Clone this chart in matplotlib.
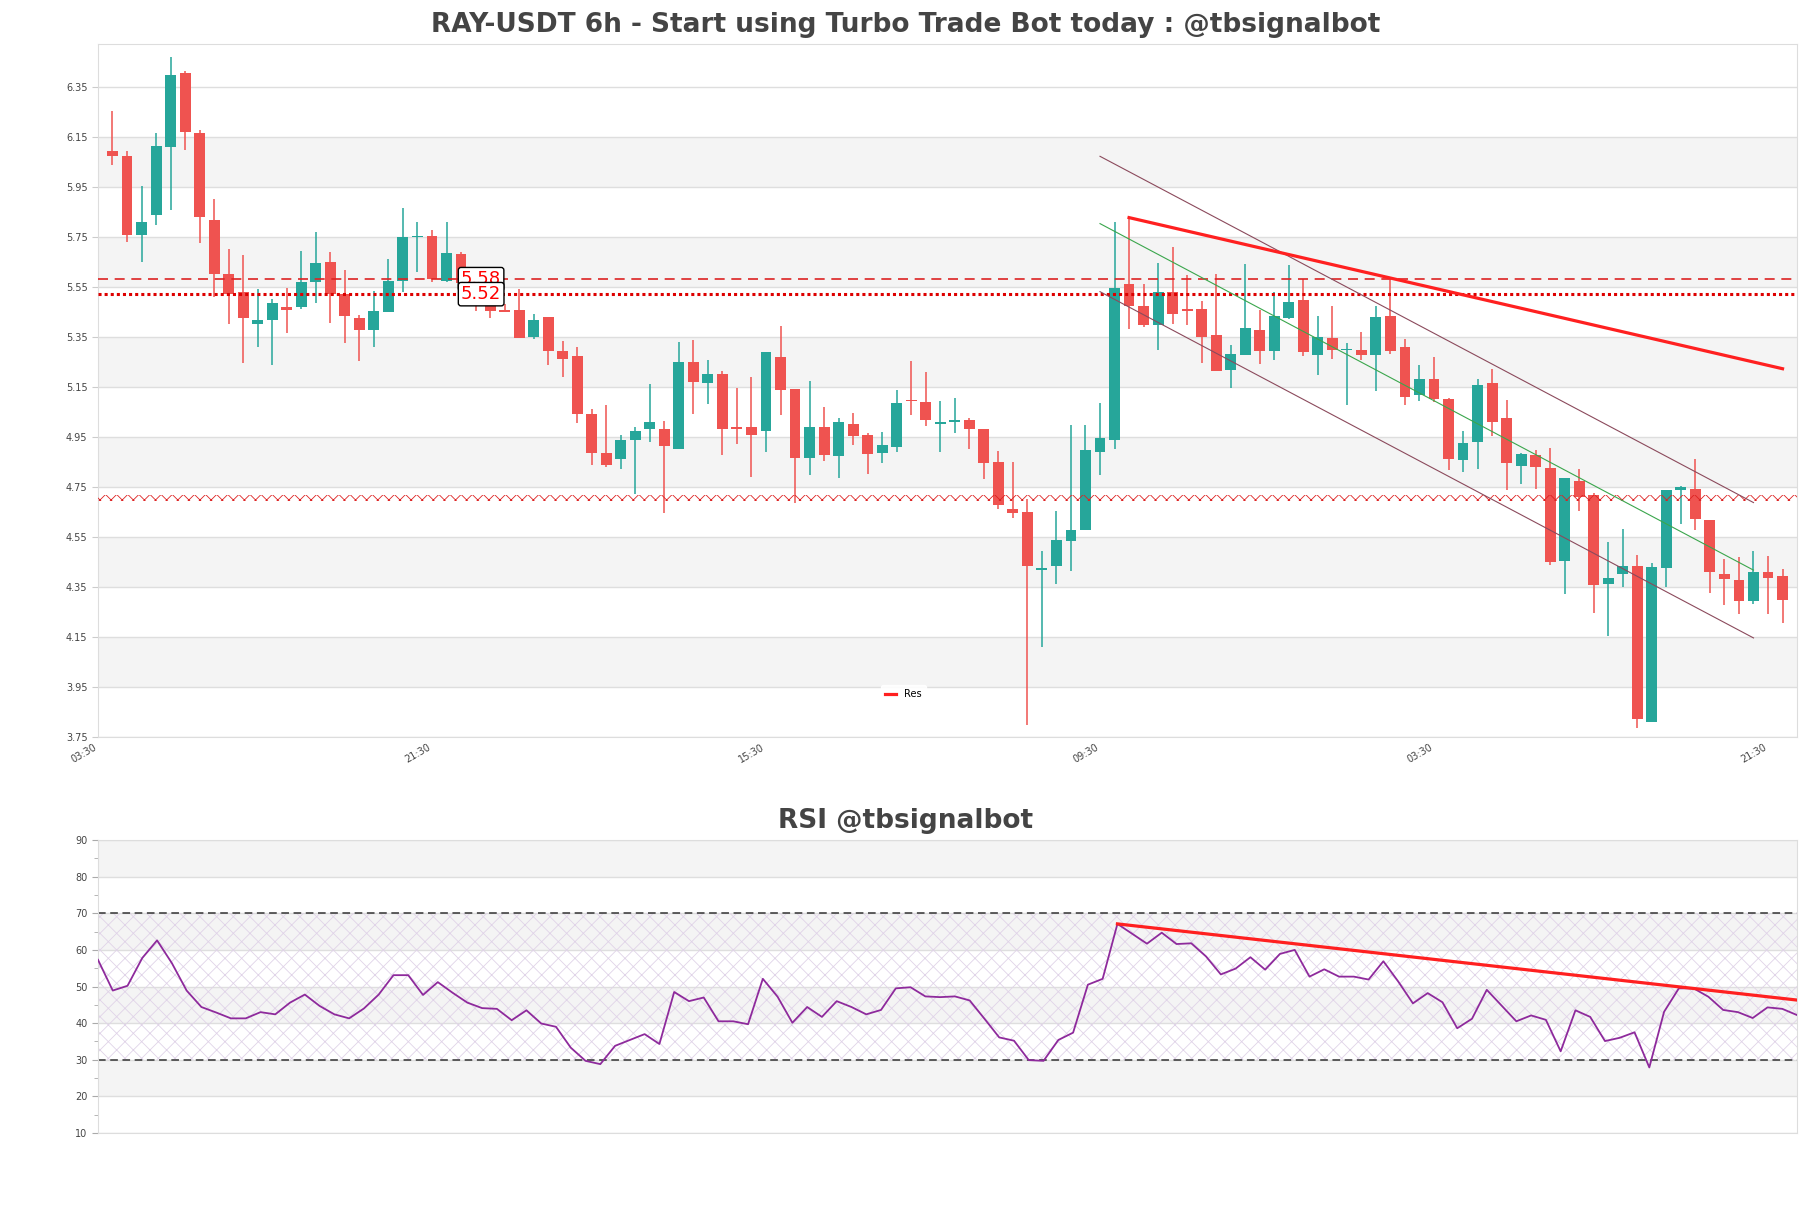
import matplotlib
matplotlib.use("Agg")
import matplotlib.pyplot as plt
from matplotlib.ticker import MultipleLocator

# ---- data (6h candles, oldest first) ----
opens = [6.091, 6.071, 5.757, 5.835, 6.110, 6.402, 6.163, 5.817, 5.600, 5.528,
         5.399, 5.418, 5.467, 5.467, 5.570, 5.649, 5.521, 5.424, 5.377, 5.449,
         5.573, 5.748, 5.754, 5.573, 5.681, 5.565, 5.489, 5.456, 5.456, 5.348,
         5.429, 5.294, 5.273, 5.042, 4.887, 4.862, 4.939, 4.982, 4.982, 4.903,
         5.249, 5.166, 5.200, 4.990, 4.988, 4.973, 5.269, 5.141, 4.865, 4.991,
         4.874, 5.002, 4.959, 4.885, 4.910, 5.095, 5.089, 5.002, 5.009, 5.017,
         4.981, 4.851, 4.662, 4.651, 4.417, 4.435, 4.532, 4.579, 4.889, 4.937,
         5.559, 5.472, 5.395, 5.528, 5.460, 5.460, 5.357, 5.218, 5.278, 5.375,
         5.291, 5.426, 5.496, 5.278, 5.345, 5.296, 5.296, 5.278, 5.433, 5.307,
         5.118, 5.182, 5.101, 4.858, 4.930, 5.163, 5.024, 4.835, 4.878, 4.827,
         4.453, 4.773, 4.718, 4.361, 4.402, 4.435, 3.811, 4.424, 4.736, 4.743,
         4.618, 4.402, 4.379, 4.294, 4.411, 4.393]
highs = [6.251, 6.092, 5.954, 6.163, 6.467, 6.413, 6.177, 5.900, 5.701, 5.676,
         5.539, 5.501, 5.546, 5.692, 5.770, 5.687, 5.617, 5.438, 5.534, 5.662,
         5.865, 5.809, 5.775, 5.809, 5.690, 5.580, 5.500, 5.480, 5.539, 5.440,
         5.430, 5.332, 5.310, 5.062, 5.076, 4.957, 4.990, 5.161, 5.015, 5.327,
         5.337, 5.256, 5.213, 5.145, 5.188, 5.289, 5.393, 5.141, 5.172, 5.069,
         5.024, 5.045, 4.964, 4.970, 5.136, 5.253, 5.208, 5.091, 5.105, 5.024,
         4.981, 4.892, 4.851, 4.701, 4.492, 4.654, 4.997, 4.997, 5.083, 5.809,
         5.826, 5.559, 5.645, 5.709, 5.595, 5.491, 5.602, 5.316, 5.642, 5.455,
         5.528, 5.636, 5.579, 5.433, 5.471, 5.323, 5.368, 5.474, 5.575, 5.341,
         5.236, 5.267, 5.105, 4.972, 5.179, 5.222, 5.096, 4.885, 4.896, 4.907,
         4.786, 4.822, 4.727, 4.530, 4.582, 4.476, 4.447, 4.736, 4.752, 4.861,
         4.618, 4.462, 4.469, 4.494, 4.474, 4.420]
lows = [6.035, 5.727, 5.647, 5.795, 5.858, 6.096, 5.723, 5.507, 5.399, 5.245,
        5.309, 5.236, 5.363, 5.462, 5.485, 5.404, 5.325, 5.253, 5.309, 5.449,
        5.530, 5.609, 5.570, 5.570, 5.560, 5.452, 5.426, 5.449, 5.343, 5.341,
        5.236, 5.190, 5.006, 4.836, 4.831, 4.822, 4.723, 4.930, 4.645, 4.900,
        5.042, 5.081, 4.876, 4.921, 4.791, 4.889, 5.038, 4.687, 4.799, 4.854,
        4.786, 4.916, 4.800, 4.844, 4.889, 5.038, 4.993, 4.889, 4.964, 4.901,
        4.781, 4.663, 4.624, 3.797, 4.110, 4.363, 4.413, 4.579, 4.799, 4.901,
        5.382, 5.388, 5.296, 5.402, 5.395, 5.244, 5.213, 5.146, 5.278, 5.242,
        5.255, 5.422, 5.271, 5.195, 5.262, 5.078, 5.258, 5.132, 5.282, 5.078,
        5.094, 5.087, 4.817, 4.809, 4.822, 4.954, 4.736, 4.763, 4.741, 4.438,
        4.323, 4.654, 4.244, 4.154, 4.348, 3.786, 3.811, 4.348, 4.600, 4.579,
        4.327, 4.276, 4.240, 4.282, 4.240, 4.204]
closes = [6.071, 5.757, 5.809, 6.114, 6.395, 6.170, 5.829, 5.599, 5.519, 5.426,
          5.418, 5.483, 5.456, 5.570, 5.646, 5.519, 5.431, 5.377, 5.453, 5.573,
          5.750, 5.752, 5.579, 5.685, 5.565, 5.500, 5.453, 5.450, 5.345, 5.417,
          5.294, 5.262, 5.042, 4.885, 4.836, 4.939, 4.975, 5.011, 4.912, 5.249,
          5.170, 5.200, 4.981, 4.982, 4.957, 5.289, 5.137, 4.865, 4.990, 4.878,
          5.008, 4.952, 4.881, 4.916, 5.083, 5.092, 5.018, 5.009, 5.018, 4.982,
          4.847, 4.676, 4.645, 4.435, 4.426, 4.536, 4.579, 4.898, 4.945, 5.546,
          5.474, 5.395, 5.528, 5.442, 5.451, 5.350, 5.213, 5.280, 5.384, 5.294,
          5.431, 5.487, 5.287, 5.348, 5.296, 5.300, 5.278, 5.429, 5.291, 5.110,
          5.182, 5.100, 4.863, 4.927, 5.155, 5.009, 4.844, 4.882, 4.829, 4.449,
          4.786, 4.709, 4.357, 4.384, 4.433, 3.822, 4.431, 4.736, 4.750, 4.622,
          4.411, 4.381, 4.294, 4.411, 4.384, 4.298]

rsi = [57.3, 48.9, 50.2, 57.8, 62.6, 56.4, 48.9, 44.4, 42.9, 41.3,
       41.3, 43.0, 42.4, 45.6, 47.8, 44.7, 42.4, 41.3, 44.0, 47.8,
       53.1, 53.1, 47.7, 51.2, 48.3, 45.6, 44.1, 43.9, 40.8, 43.5,
       39.9, 39.0, 33.3, 29.7, 28.8, 33.8, 35.4, 37.0, 34.3, 48.5,
       46.0, 47.0, 40.5, 40.5, 39.7, 52.1, 47.2, 40.1, 44.4, 41.7,
       46.0, 44.4, 42.4, 43.6, 49.5, 49.8, 47.3, 47.1, 47.3, 46.2,
       41.2, 36.1, 35.2, 29.9, 29.7, 35.4, 37.4, 50.5, 52.1, 67.1,
       64.4, 61.7, 64.7, 61.6, 61.8, 58.2, 53.3, 54.9, 58.0, 54.6,
       58.9, 60.0, 52.7, 54.7, 52.7, 52.7, 51.9, 56.9, 51.4, 45.4,
       48.2, 45.7, 38.6, 41.2, 49.1, 44.8, 40.5, 42.1, 40.9, 32.3,
       43.5, 41.7, 35.1, 36.0, 37.5, 27.9, 43.1, 49.5, 49.5, 47.2,
       43.6, 43.0, 41.4, 44.3, 43.9, 42.2]

# x tick labels every 23 candles
tick_pos = [-1, 22, 45, 68, 91, 114]
tick_labels = ["03:30", "21:30", "15:30", "09:30", "03:30", "21:30"]

# support / resistance levels
res_dashed = 5.58
res_dotted = 5.52
support_band = (4.693, 4.719)

# trend lines (candle index, price)
res_trend = ([70, 115], [5.826, 5.222])
chan_mid = ([68, 113], [5.802, 4.417])
chan_up = ([68, 113], [6.071, 4.687])
chan_low = ([68, 113], [5.530, 4.146])
rsi_trend = ([69, 115], [67.1, 46.3])

GREEN = "#26a69a"
RED = "#ef5350"
TXT = "#444444"

plt.rcParams["hatch.linewidth"] = 0.6

fig = plt.figure(figsize=(18.11, 12.08), dpi=100)
ax = fig.add_axes([0.0541, 0.3899, 0.9382, 0.5737])
ax_r = fig.add_axes([0.0541, 0.0621, 0.9382, 0.2425])

# ---- price panel ----
for lo in [3.95, 4.35, 4.75, 5.15, 5.55, 5.95]:
    ax.axhspan(lo, lo + 0.2, color="#f4f4f4", zorder=0, lw=0)

n = len(closes)
xs = list(range(n))
colors = [GREEN if c >= o else RED for o, c in zip(opens, closes)]
ax.vlines(xs, lows, highs, colors=colors, lw=1.1, zorder=2)
bottoms = [min(o, c) for o, c in zip(opens, closes)]
heights = [max(abs(c - o), 0.004) for o, c in zip(opens, closes)]
ax.bar(xs, heights, bottom=bottoms, width=0.75, color=colors, zorder=3)

ax.axhline(res_dashed, color="#dd2222", ls=(0, (6, 4)), lw=1.2, zorder=4)
ax.axhline(res_dotted, color="#dd0000", ls=(0, (1, 1)), lw=2.2, zorder=4)
ax.fill_between([-1, 116], support_band[0], support_band[1], facecolor="none",
                edgecolor="#dd2222", hatch="xxx", lw=0, zorder=4)

ax.plot(*chan_up, color="#8b4a5c", lw=0.8, zorder=5)
ax.plot(*chan_low, color="#8b4a5c", lw=0.8, zorder=5)
ax.plot(*chan_mid, color="#3aa64c", lw=0.8, zorder=5)
ax.plot(*res_trend, color="#ff2020", lw=2.3, zorder=6, label="Res")

box = dict(boxstyle="round,pad=0.15", fc="white", ec="black", lw=1)
ax.text(24.0, res_dashed, f"{res_dashed:.2f}", color="red", fontsize=13,
        va="center", ha="left", bbox=box, zorder=7)
ax.text(24.0, res_dotted, f"{res_dotted:.2f}", color="red", fontsize=13,
        va="center", ha="left", bbox=box, zorder=7)

ax.set_xlim(-1, 116)
ax.set_ylim(3.75, 6.52)
ax.set_yticks([3.75 + 0.2 * k for k in range(14)])
ax.set_yticklabels([f"{3.75 + 0.2 * k:.2f}" for k in range(14)])
ax.set_xticks(tick_pos)
ax.set_xticklabels(tick_labels, rotation=30, ha="right")
ax.yaxis.grid(True, color="#dedede", lw=1)
ax.set_axisbelow(True)
ax.tick_params(axis="both", labelsize=7, colors=TXT, length=4, color="#cccccc")
ax.tick_params(axis="x", length=0)
for s in ax.spines.values():
    s.set_color("#dddddd")
# titles are centred on the figure, not on the axes
ax.set_title("RAY-USDT 6h - Start using Turbo Trade Bot today : @tbsignalbot",
             fontsize=19, fontweight="bold", color=TXT, x=0.4753, pad=8.5)
ax.legend(loc="center", bbox_to_anchor=(0.474, 0.062), fontsize=7, frameon=True,
          framealpha=0.9, edgecolor="white", handlelength=1.2)

# ---- RSI panel ----
for lo in [20, 40, 60, 80]:
    ax_r.axhspan(lo, lo + 10, color="#f4f4f4", zorder=0, lw=0)
rx = list(range(len(rsi)))
ax_r.fill_between(rx, 30, 70, facecolor="none", edgecolor="#e0d3e8",
                  hatch="xx", lw=0, zorder=1)
ax_r.axhline(70, color="#333333", ls=(0, (5, 3)), lw=1.1, zorder=2)
ax_r.axhline(30, color="#333333", ls=(0, (5, 3)), lw=1.1, zorder=2)
ax_r.plot(rx, rsi, color="#8e2a9c", lw=1.3, zorder=3)
ax_r.plot(*rsi_trend, color="#ff2020", lw=2.3, zorder=4)

ax_r.set_xlim(0, len(rsi) - 1)
ax_r.set_ylim(10, 90)
ax_r.set_yticks(range(10, 91, 10))
ax_r.yaxis.set_minor_locator(MultipleLocator(5))
ax_r.set_xticks([])
ax_r.yaxis.grid(True, color="#dedede", lw=1)
ax_r.set_axisbelow(True)
ax_r.tick_params(axis="y", labelsize=7, colors=TXT, length=4, color="#aaaaaa")
ax_r.tick_params(axis="y", which="minor", length=3, color="#aaaaaa")
for s in ax_r.spines.values():
    s.set_color("#dddddd")
ax_r.set_title("RSI @tbsignalbot", fontsize=19, fontweight="bold", color=TXT,
               x=0.4753, pad=8.5)

fig.savefig("out.png", dpi=100, facecolor="white")
